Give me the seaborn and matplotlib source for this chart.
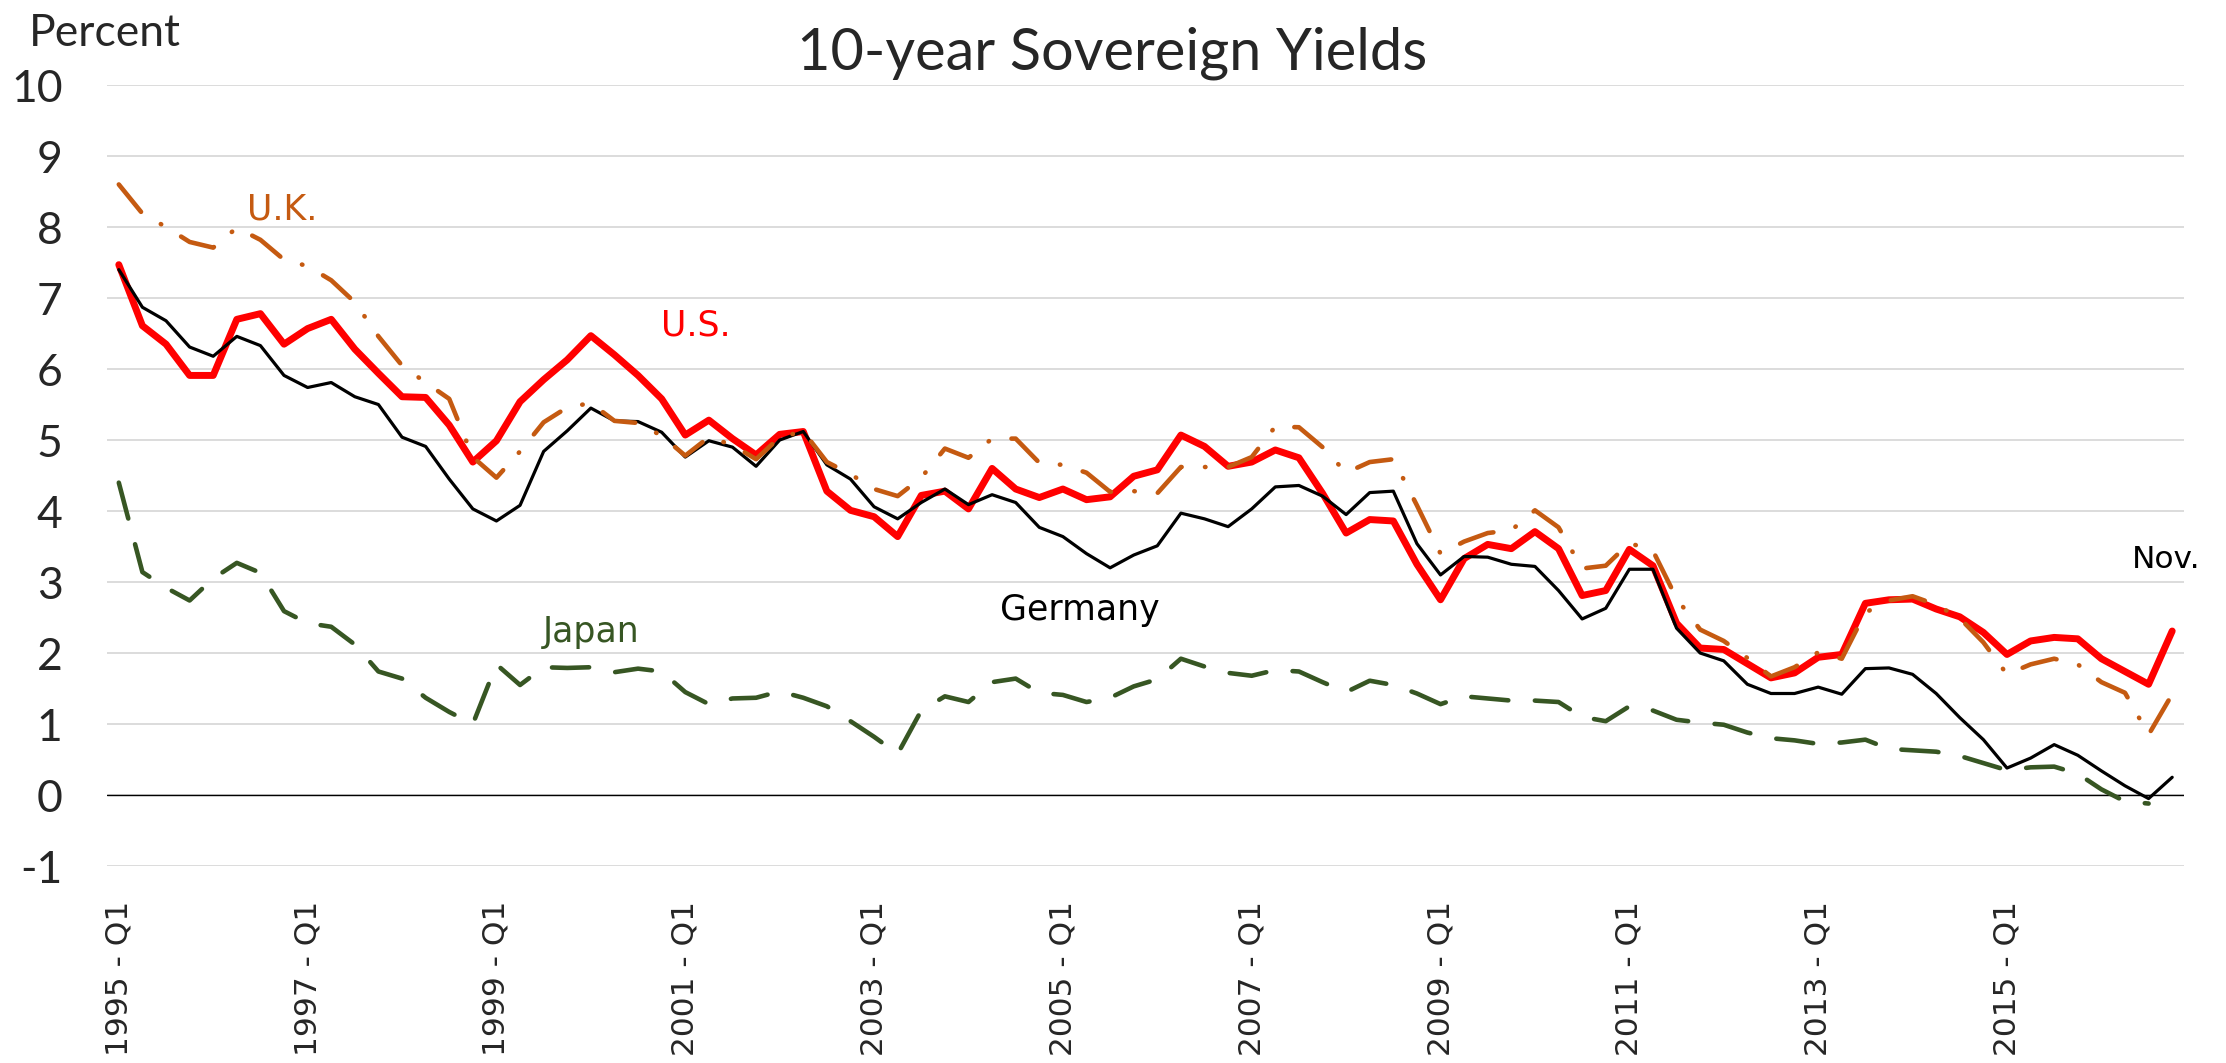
"""
10-year sovereign yields, quarterly 1995 Q1 - 2016 Q4 (Nov.)
"""

import numpy as np
import pandas as pd
import matplotlib
matplotlib.use('Agg')
import matplotlib.pyplot as plt
import seaborn as sns

# Quarterly observations, 1995 Q1 .. 2016 Q4
years = list(range(1995, 2017))
quarters = ['Q1', 'Q2', 'Q3', 'Q4']
quarter_labels = [f'{y} - {q}' for y in years for q in quarters]

us = [7.47, 6.61, 6.35, 5.91, 5.91, 6.70, 6.78, 6.35, 6.57, 6.70, 6.28, 5.94,
      5.61, 5.60, 5.21, 4.69, 4.99, 5.54, 5.85, 6.13, 6.47, 6.20, 5.91, 5.58,
      5.07, 5.28, 5.02, 4.79, 5.08, 5.12, 4.28, 4.01, 3.92, 3.64, 4.22, 4.28,
      4.03, 4.60, 4.31, 4.19, 4.31, 4.16, 4.20, 4.49, 4.58, 5.07, 4.91, 4.63,
      4.69, 4.86, 4.75, 4.25, 3.69, 3.88, 3.86, 3.25, 2.75, 3.33, 3.53, 3.47,
      3.71, 3.47, 2.81, 2.88, 3.46, 3.23, 2.42, 2.07, 2.05, 1.85, 1.65, 1.72,
      1.94, 1.98, 2.70, 2.75, 2.76, 2.62, 2.51, 2.29, 1.98, 2.17, 2.22, 2.20,
      1.92, 1.74, 1.56, 2.31]

germany = [7.40, 6.87, 6.68, 6.31, 6.18, 6.46, 6.33, 5.91, 5.74, 5.81, 5.61, 5.50,
           5.04, 4.91, 4.45, 4.03, 3.86, 4.08, 4.84, 5.13, 5.45, 5.27, 5.26, 5.11,
           4.76, 4.99, 4.90, 4.63, 5.00, 5.12, 4.65, 4.45, 4.06, 3.89, 4.12, 4.31,
           4.09, 4.23, 4.12, 3.77, 3.64, 3.40, 3.20, 3.38, 3.51, 3.97, 3.89, 3.78,
           4.03, 4.34, 4.36, 4.21, 3.95, 4.26, 4.28, 3.54, 3.10, 3.36, 3.35, 3.25,
           3.22, 2.88, 2.48, 2.63, 3.18, 3.18, 2.35, 2.00, 1.89, 1.56, 1.43, 1.43,
           1.52, 1.42, 1.78, 1.79, 1.70, 1.43, 1.09, 0.78, 0.38, 0.52, 0.71, 0.56,
           0.34, 0.13, -0.05, 0.25]

uk = [8.60, 8.19, 8.00, 7.79, 7.71, 7.99, 7.82, 7.54, 7.45, 7.25, 6.94, 6.46,
      6.05, 5.81, 5.58, 4.76, 4.47, 4.84, 5.25, 5.46, 5.52, 5.27, 5.24, 5.06,
      4.78, 5.04, 4.93, 4.73, 5.04, 5.12, 4.69, 4.52, 4.31, 4.21, 4.47, 4.88,
      4.75, 5.02, 5.02, 4.68, 4.65, 4.54, 4.27, 4.28, 4.25, 4.62, 4.62, 4.62,
      4.76, 5.19, 5.18, 4.90, 4.54, 4.69, 4.73, 4.08, 3.40, 3.57, 3.69, 3.73,
      4.01, 3.77, 3.19, 3.23, 3.55, 3.44, 2.77, 2.33, 2.17, 1.93, 1.67, 1.80,
      2.01, 1.92, 2.57, 2.74, 2.80, 2.68, 2.49, 2.15, 1.70, 1.84, 1.92, 1.84,
      1.59, 1.44, 0.85, 1.42]

japan = [4.40, 3.14, 2.92, 2.74, 3.05, 3.27, 3.13, 2.59, 2.42, 2.37, 2.12, 1.74,
         1.64, 1.37, 1.17, 1.00, 1.84, 1.55, 1.80, 1.79, 1.80, 1.73, 1.78, 1.74,
         1.45, 1.28, 1.36, 1.37, 1.46, 1.37, 1.25, 1.04, 0.82, 0.58, 1.19, 1.39,
         1.31, 1.59, 1.64, 1.44, 1.41, 1.31, 1.37, 1.53, 1.63, 1.92, 1.81, 1.72,
         1.68, 1.76, 1.74, 1.59, 1.45, 1.61, 1.55, 1.43, 1.28, 1.39, 1.36, 1.33,
         1.33, 1.31, 1.10, 1.04, 1.25, 1.19, 1.06, 1.02, 0.99, 0.88, 0.80, 0.77,
         0.72, 0.74, 0.78, 0.65, 0.63, 0.61, 0.55, 0.45, 0.35, 0.39, 0.40, 0.30,
         0.08, -0.09, -0.12, np.nan]

df = pd.DataFrame({'quarter': quarter_labels, 'US': us, 'Germany': germany,
                   'UK': uk, 'Japan': japan})
df['t'] = np.arange(len(df))

sns.set_theme(style='white')
plt.rcParams['font.family'] = ['DejaVu Sans']

fig = plt.figure(figsize=(22.26, 10.63), dpi=100)
ax = fig.add_axes([107 / 2226, 0.1853, (2184 - 107) / 2226, 0.920 - 0.1853])

# Japan (dashed, dark green)
sns.lineplot(data=df, x='t', y='Japan', ax=ax, color='#375623', linewidth=3.3,
             linestyle=(0, (8.1, 5.8)), dash_capstyle='round', zorder=3)
# U.S. (thick red)
sns.lineplot(data=df, x='t', y='US', ax=ax, color='#FF0000', linewidth=5.0,
             solid_capstyle='round', solid_joinstyle='round', zorder=4)
# Germany (thin black)
sns.lineplot(data=df, x='t', y='Germany', ax=ax, color='black', linewidth=2.3,
             zorder=5)
# U.K. (long dash dot, orange)
sns.lineplot(data=df, x='t', y='UK', ax=ax, color='#C55A11', linewidth=3.3,
             linestyle=(0, (7.7, 5.1, 0.1, 5.1)), dash_capstyle='round', zorder=6)

# Eixos
ax.set_xlim(-0.5, len(df) - 0.5)
ax.set_ylim(-1, 10)
ax.set_yticks(range(-1, 11))
ax.set_yticklabels([str(v) for v in range(-1, 11)], fontsize=32, family='Lato')
ax.set_xticks(df['t'][::8])
ax.set_xticklabels(df['quarter'][::8], rotation=90, fontsize=22.5)
ax.tick_params(axis='y', length=0, pad=32)
ax.tick_params(axis='x', length=0, pad=25)
ax.set_xlabel('')
ax.set_ylabel('')

ax.yaxis.grid(True, color='#D9D9D9', linewidth=1.3, zorder=0)
ax.xaxis.grid(False)
ax.axhline(0, color='black', linewidth=1.0, zorder=2)
sns.despine(ax=ax, left=True, bottom=True)

# Rótulos das séries
ax.text(5.42, 8.10, 'U.K.', color='#C55A11', fontsize=25, va='baseline')
ax.text(22.97, 6.47, 'U.S.', color='#FF0000', fontsize=25, va='baseline')
ax.text(17.97, 2.15, 'Japan', color='#375623', fontsize=25, va='baseline')
ax.text(37.33, 2.46, 'Germany', color='black', fontsize=25, va='baseline')
ax.text(85.3, 3.20, 'Nov.', color='black', fontsize=22.5, va='baseline', clip_on=False)

# Títulos
fig.text(1112 / 2226, 1 - 70 / 1063, '10-year Sovereign Yields', ha='center',
         va='baseline', fontsize=41.5, family='Lato')
fig.text(29 / 2226, 1 - 46 / 1063, 'Percent', ha='left', va='baseline',
         fontsize=32, family='Lato')

fig.savefig('out.png', dpi=100)
